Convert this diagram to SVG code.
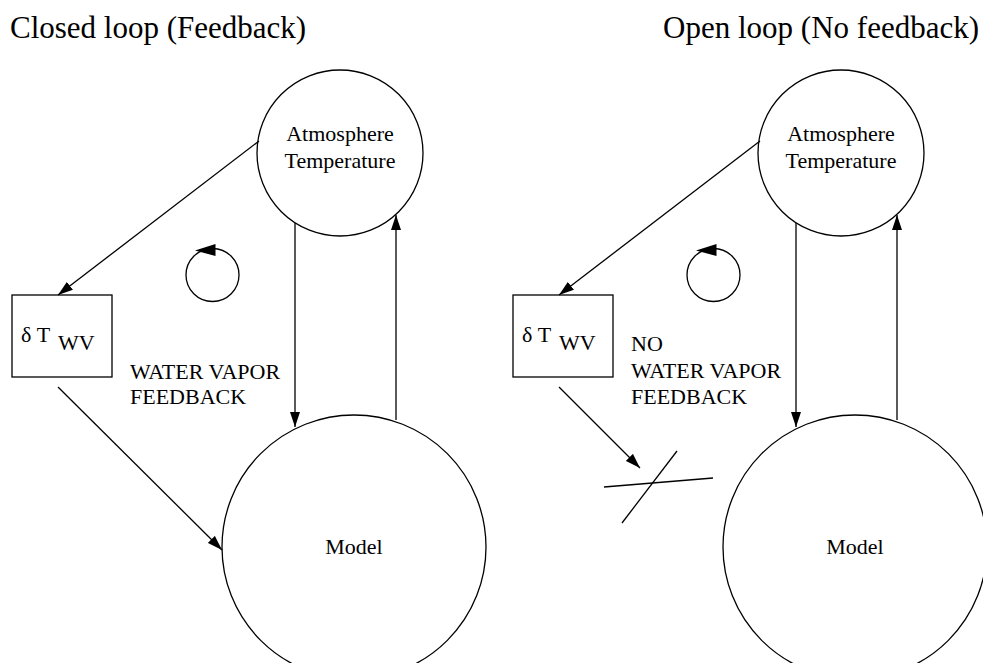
<svg xmlns="http://www.w3.org/2000/svg" width="983" height="663" viewBox="0 0 983 663">
<style>
.bg{fill:#fff}
.node{fill:none;stroke:#000;stroke-width:1.3}
.ln{fill:none;stroke:#000;stroke-width:1.3}
.t{font-family:"Liberation Serif","Times New Roman",serif;fill:#000}
.lab{font-size:22px}
.title{font-size:31px}
.c{text-anchor:middle}
</style>
<defs>
<marker id="ah" markerUnits="userSpaceOnUse" markerWidth="16" markerHeight="10" refX="15" refY="5" orient="auto">
<path d="M0,0 L15,5 L0,10 z" fill="#000"/>
</marker>
</defs>
<rect class="bg" x="0" y="0" width="983" height="663"/>
<text class="t title" x="10" y="38">Closed loop (Feedback)</text>
<text class="t title" x="979" y="38" text-anchor="end">Open loop (No feedback)</text>

<g id="left-atmosphere">
<circle class="node" cx="340" cy="153" r="83"/>
<text class="t lab c" x="340" y="141">Atmosphere</text>
<text class="t lab c" x="340" y="168">Temperature</text>
</g>
<g id="left-box">
<rect class="node" x="12" y="295" width="100" height="82"/>
<text class="t lab" x="21" y="342">δ T</text>
<text class="t lab" x="58" y="350">WV</text>
</g>
<g id="left-model">
<circle class="node" cx="354" cy="547" r="132"/>
<text class="t lab c" x="354" y="554">Model</text>
</g>
<g id="left-label">
<text class="t lab" x="130" y="379">WATER VAPOR</text>
<text class="t lab" x="130" y="404">FEEDBACK</text>
</g>

<g id="right-atmosphere">
<circle class="node" cx="841" cy="153" r="83"/>
<text class="t lab c" x="841" y="141">Atmosphere</text>
<text class="t lab c" x="841" y="168">Temperature</text>
</g>
<g id="right-box">
<rect class="node" x="513" y="295" width="100" height="82"/>
<text class="t lab" x="522" y="342">δ T</text>
<text class="t lab" x="559" y="350">WV</text>
</g>
<g id="right-model">
<circle class="node" cx="855" cy="547" r="132"/>
<text class="t lab c" x="855" y="554">Model</text>
</g>
<g id="right-label">
<text class="t lab" x="631" y="351">NO</text>
<text class="t lab" x="631" y="378">WATER VAPOR</text>
<text class="t lab" x="631" y="404">FEEDBACK</text>
</g>

<g id="connectors">
<line class="ln" x1="259" y1="141" x2="58" y2="295" marker-end="url(#ah)"/>
<line class="ln" x1="295" y1="223" x2="295" y2="427" marker-end="url(#ah)"/>
<line class="ln" x1="396" y1="420" x2="396" y2="215" marker-end="url(#ah)"/>
<line class="ln" x1="58" y1="387" x2="222" y2="550" marker-end="url(#ah)"/>
<circle class="ln" cx="212.5" cy="275" r="26.5"/>
<polygon points="195,250.5 215.5,244 215.5,256" fill="#000"/>

<line class="ln" x1="760" y1="141" x2="559" y2="295" marker-end="url(#ah)"/>
<line class="ln" x1="796" y1="223" x2="796" y2="427" marker-end="url(#ah)"/>
<line class="ln" x1="897" y1="420" x2="897" y2="215" marker-end="url(#ah)"/>
<line class="ln" x1="559" y1="387" x2="640" y2="468" marker-end="url(#ah)"/>
<line class="ln" x1="604" y1="487" x2="713" y2="478"/>
<line class="ln" x1="677" y1="451" x2="622" y2="523"/>
<circle class="ln" cx="713.5" cy="275" r="26.5"/>
<polygon points="696,250.5 716.5,244 716.5,256" fill="#000"/>
</g>
</svg>
